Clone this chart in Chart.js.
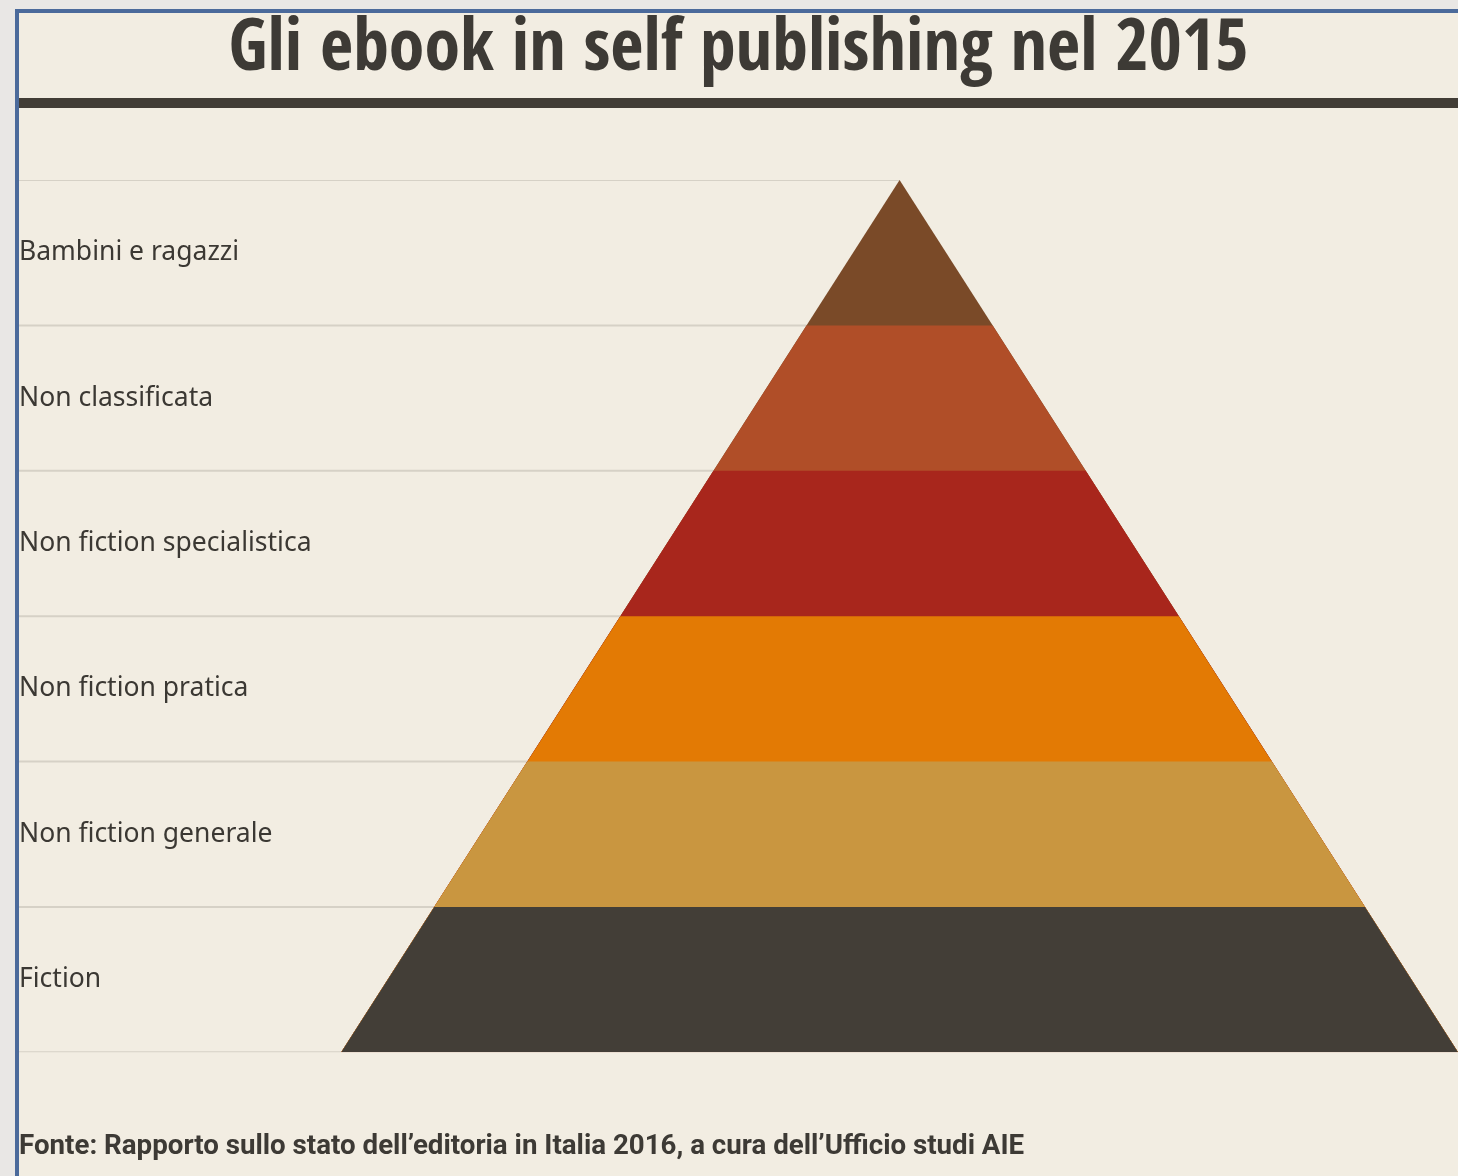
<!DOCTYPE html>
<html>
<head>
<meta charset="utf-8">
<script src="https://cdn.jsdelivr.net/npm/chart.js@4/dist/chart.umd.min.js"></script>
<style>
  body { margin: 0; background: #e9e7e5; }
  #frame {
    position: absolute; left: 15px; top: 9px;
    width: 1439px; height: 1163px;
    border-left: 4px solid #4b6a9b; border-top: 4px solid #4b6a9b;
    background: #f2ede2;
  }
  #rule {
    position: absolute; left: 0; top: 85px;
    width: 1439px; height: 10px; background: #423d36;
  }
  #wrap { position: absolute; left: 0; top: 0; width: 1439px; height: 1163px; }
</style>
</head>
<body>
<div id="frame">
  <div id="wrap"><canvas id="pyramid"></canvas></div>
  <div id="rule"></div>
</div>
<script>
// categories from top of the pyramid to the bottom
const categories = ["Bambini e ragazzi", "Non classificata", "Non fiction specialistica",
                    "Non fiction pratica", "Non fiction generale", "Fiction"];
const bandColors = ["#7a4a28", "#b04e28", "#a8261c", "#e37a04", "#c99640", "#433e37"];
// every layer has the same height in the picture
const bandHeights = [1, 1, 1, 1, 1, 1];

const titleText = "Gli ebook in self publishing nel 2015";
const sourceText = "Fonte: Rapporto sullo stato dell\u2019editoria in Italia 2016, a cura dell\u2019Ufficio studi AIE";

document.addEventListener("DOMContentLoaded", () => {
    const total = bandHeights.reduce((a, b) => a + b, 0);
    const halfWidth = (y) => 1 - y / total;   // pyramid edge at height y
    const xMin = -1.577, xMax = 1.0;

    // bottom-up order: first dataset is drawn last (on top)
    const bottomUp = categories.map((c, i) => i).reverse();
    let top = 0;
    const bands = bottomUp.map(i => {
        top += bandHeights[i];
        const w = halfWidth(top);
        return {
            label: categories[i],
            data: [{x: -1, y: 0}, {x: -w, y: top}, {x: w, y: top}, {x: 1, y: 0}],
            backgroundColor: bandColors[i],
            borderWidth: 0,
            pointRadius: 0,
            fill: "origin",
            tension: 0
        };
    });

    // boundary lines from the left edge to the pyramid side
    const levels = [0];
    bottomUp.forEach(i => levels.push(levels[levels.length - 1] + bandHeights[i]));
    const rules = levels.map(y => ({
        label: "rule",
        data: [{x: xMin, y: y}, {x: -halfWidth(y), y: y}],
        borderColor: "#d6d1c6",
        borderWidth: 2,
        pointRadius: 0,
        fill: false
    }));

    new Chart(document.getElementById("pyramid"), {
        type: "line",
        data: { datasets: [...bands, ...rules] },
        options: {
            responsive: true,
            maintainAspectRatio: false,
            animation: false,
            layout: { padding: 0, autoPadding: false },
            plugins: {
                legend: { display: false },
                tooltip: { enabled: false },
                title: {
                    display: true,
                    text: titleText,
                    color: "#3d3a35",
                    font: { family: "'Open Sans Condensed'", weight: "bold", size: 72, lineHeight: 1 },
                    padding: { top: 2, bottom: 93 }
                },
                subtitle: {
                    display: true,
                    position: "bottom",
                    align: "start",
                    text: sourceText,
                    color: "#3d3a35",
                    font: { family: "Roboto", weight: "bold", size: 27.7, lineHeight: 1 },
                    padding: { top: 81, bottom: 15 }
                }
            },
            scales: {
                x: { type: "linear", min: xMin, max: xMax, display: false },
                y: { type: "linear", min: 0, max: total, display: false },
                yLabels: {
                    type: "category",
                    position: "left",
                    labels: categories,
                    offset: true,
                    grid: { display: false, drawTicks: false, tickLength: 0 },
                    border: { display: false },
                    ticks: {
                        mirror: true,
                        padding: 0,
                        color: "#3b3833",
                        font: { family: "'Noto Sans'", size: 26.5 }
                    }
                }
            }
        }
    });
});
</script>
</body>
</html>
